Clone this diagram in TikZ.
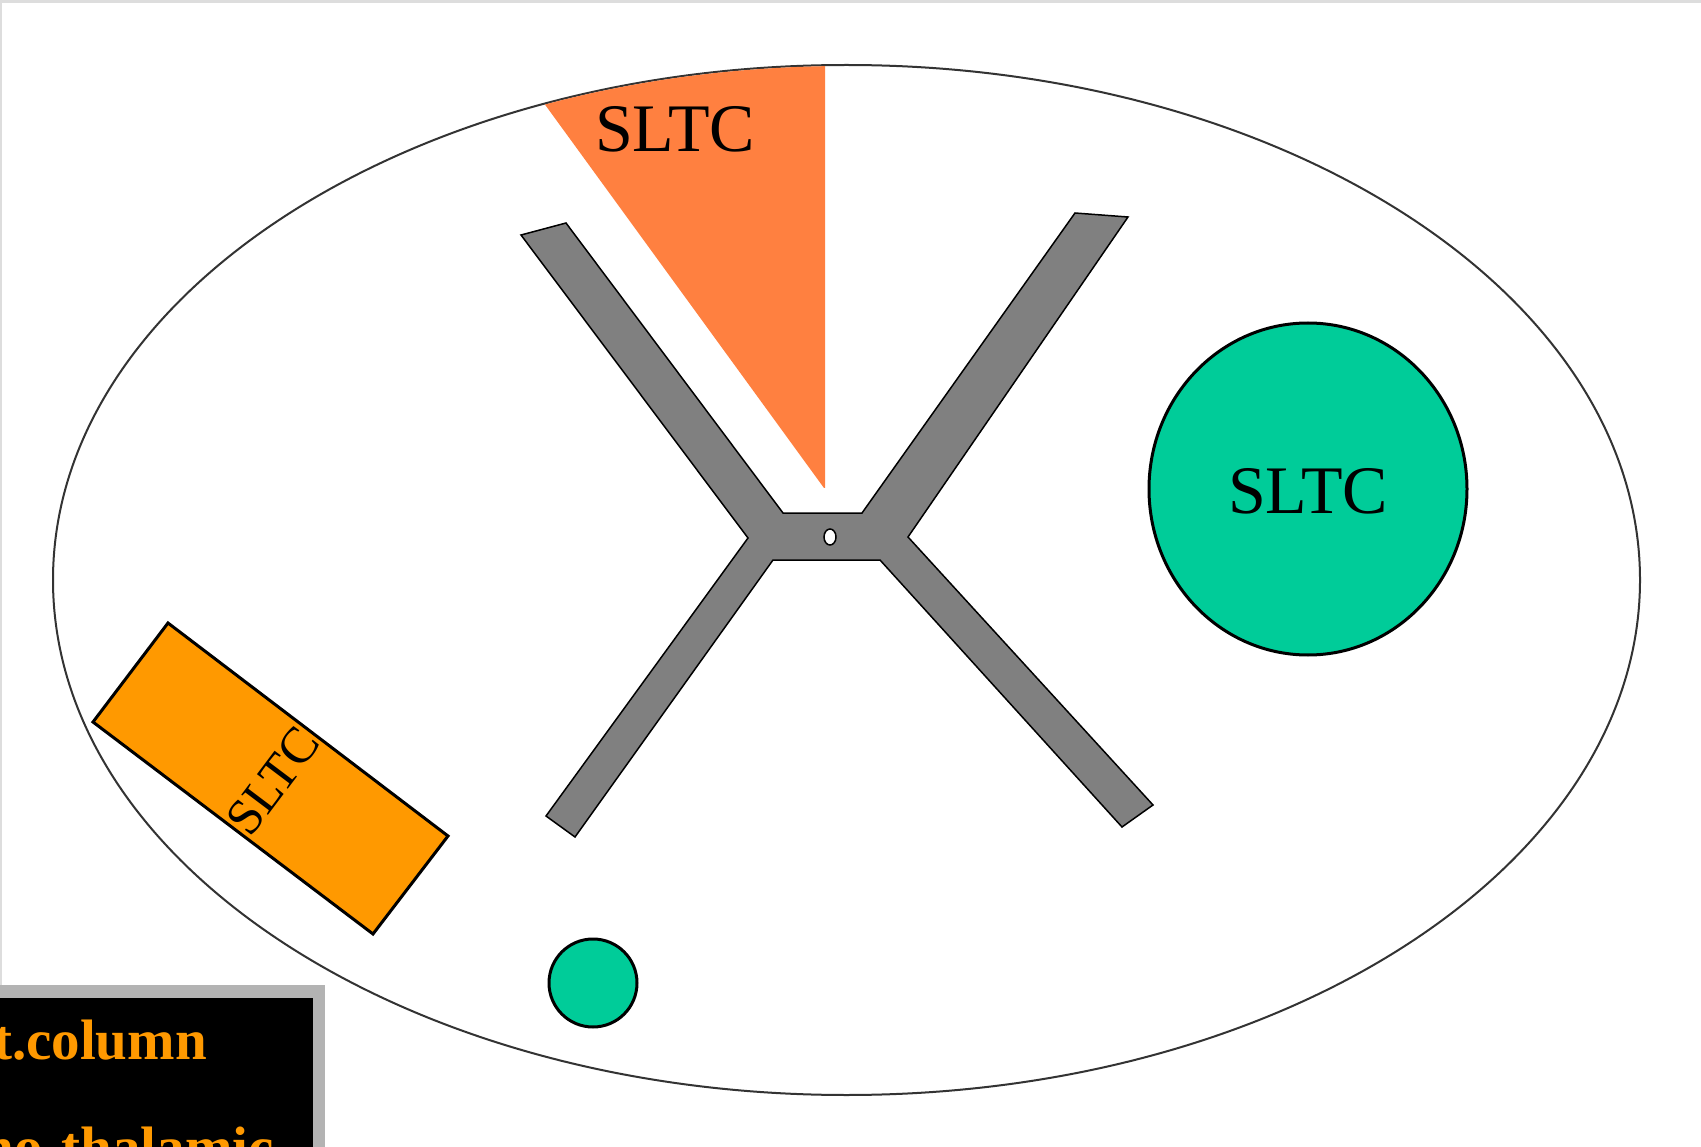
\documentclass[tikz,border=0pt]{standalone}
\usepackage{fontspec}
\setmainfont{Liberation Serif}
\definecolor{sectorc}{HTML}{FF8040}
\definecolor{rectc}{HTML}{FF9900}
\definecolor{greenc}{HTML}{00CC99}
\definecolor{armc}{HTML}{808080}
\definecolor{framec}{HTML}{DDDDDD}
\definecolor{legframe}{HTML}{B3B3B3}
\tikzset{
  label/.style={inner sep=0pt, font=\fontsize{68}{68}\selectfont, text=black},
  legtext/.style={inner sep=0pt, font=\fontsize{57}{57}\selectfont\bfseries, text=rectc},
  outline/.style={draw=black, line width=3pt, line join=miter},
}
\begin{document}
\begin{tikzpicture}[x=1pt,y=-1pt]
\useasboundingbox (0,0) rectangle (1701,1147);
\fill[white] (0,0) rectangle (1701,1147);
% page frame lines
\fill[framec] (0,0) rectangle (1701,3);
\fill[framec] (0,0) rectangle (2,1147);
% outer ellipse
\draw[draw=black!80, line width=2pt] (846.5,580) ellipse [x radius=793.5, y radius=515];
% sector clipped by ellipse
\begin{scope}
  \clip (846.5,580) ellipse [x radius=792.5, y radius=514];
  \fill[sectorc] (824,488) -- (498,40) -- (825,40) -- (825,488) -- cycle;
\end{scope}
\node[label] (sltctop) at (675,129) {SLTC};
% X shaped grey body
\draw[fill=armc, draw=black, line width=1.5pt, line join=miter]
  (521,235) -- (566,223) -- (783,513) -- (862,513) -- (1075,213) -- (1128,217)
  -- (908,537) -- (1153,805) -- (1122,827) -- (880,560) -- (773,560)
  -- (575,837) -- (546,816) -- (748,538) -- cycle;
\draw[fill=white, draw=black, line width=1.5pt] (830,537) ellipse [x radius=6, y radius=8];
% big green circle
\draw[outline, fill=greenc] (1308,489) ellipse [x radius=159, y radius=166];
\node[label] (sltcright) at (1308,491) {SLTC};
% small green circle
\draw[outline, fill=greenc] (593,983) circle [radius=44];
% tilted orange rectangle
\draw[outline, fill=rectc] (168,623) -- (448,836) -- (373,934) -- (93,722) -- cycle;
\node[label, font=\fontsize{51}{51}\selectfont, rotate=53] (sltcrect) at (273,781) {SLTC};
% legend box
\fill[legframe] (-5,985) rectangle (325,1160);
\fill[black] (-5,998) rectangle (313,1160);
\node[legtext, anchor=base east] (leg1) at (207,1059) {t.column};
\node[legtext, anchor=base east] (leg2) at (274,1166) {no-thalamic};
\end{tikzpicture}
\end{document}
